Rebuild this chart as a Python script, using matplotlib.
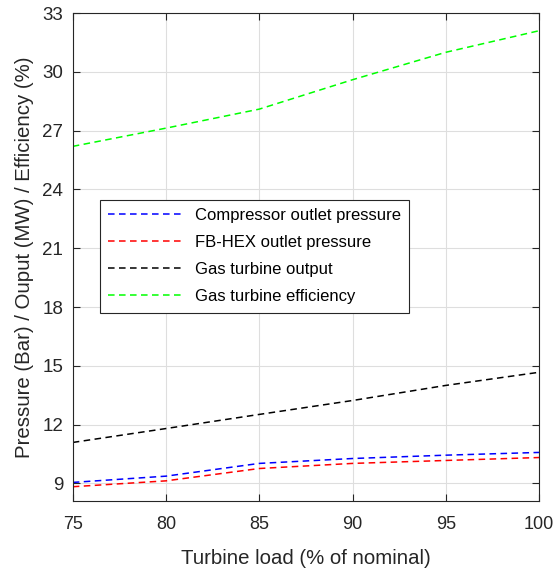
import matplotlib.pyplot as plt

plt.rcParams['font.family'] = ['Liberation Sans', 'DejaVu Sans']

load = [75, 80, 85, 90, 95, 100]
comp_pressure = [9.05, 9.37, 10.02, 10.27, 10.44, 10.58]
hex_pressure = [8.83, 9.13, 9.76, 10.02, 10.17, 10.32]
gt_output = [11.09, 11.80, 12.52, 13.23, 14.00, 14.67]
gt_efficiency = [26.2, 27.13, 28.1, 29.6, 31.0, 32.1]

fig = plt.figure(figsize=(5.6, 5.7), dpi=100)
ax = fig.add_axes([0.130, 0.121, 0.8325, 0.856])

dash = (4.3, 2.9)
ax.plot(load, comp_pressure, color='#0000ff', lw=1.1, ls='--', dashes=dash, label='Compressor outlet pressure')
ax.plot(load, hex_pressure, color='#ff0000', lw=1.1, ls='--', dashes=dash, label='FB-HEX outlet pressure')
ax.plot(load, gt_output, color='#000000', lw=1.1, ls='--', dashes=dash, label='Gas turbine output')
ax.plot(load, gt_efficiency, color='#00ff00', lw=1.1, ls='--', dashes=dash, label='Gas turbine efficiency')

ax.set_xlim(75, 100)
ax.set_ylim(8.1, 33)
ax.set_xticks(range(75, 101, 5))
ax.set_yticks(range(9, 34, 3))
ax.grid(True, color='#dedede', lw=0.8)
ax.tick_params(direction='in', top=True, right=True, colors='#262626', length=5)
ax.tick_params(axis='x', labelsize=13, pad=11)
ax.tick_params(axis='y', labelsize=13.5, pad=7)
for s in ax.spines.values():
    s.set_color('#262626')
    s.set_linewidth(0.8)

ax.set_xlabel('Turbine load (% of nominal)', fontsize=14.7, color='#262626', labelpad=11)
ax.set_ylabel('Pressure (Bar) / Ouput (MW) / Efficiency (%)', fontsize=14.7, color='#262626', labelpad=6)

leg = ax.legend(loc='upper left', bbox_to_anchor=(0.058, 0.617), borderaxespad=0,
                fontsize=12, fancybox=False, framealpha=1, edgecolor='#262626',
                handlelength=4.6, handletextpad=0.6, labelspacing=0.72, borderpad=0.5)
leg.get_frame().set_linewidth(0.8)

fig.savefig('out.png', dpi=100)
